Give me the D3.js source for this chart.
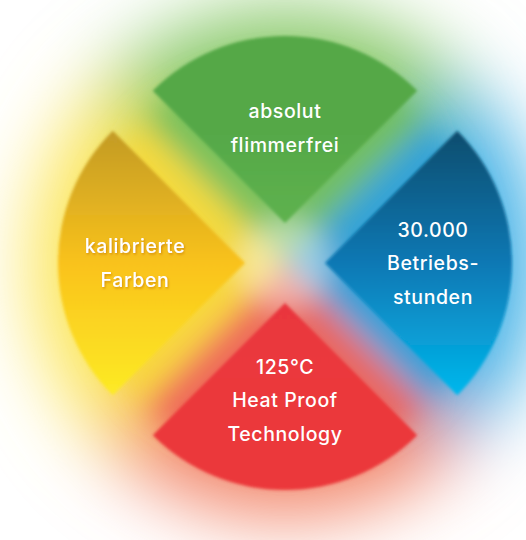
<!DOCTYPE html>
<html>
<head>
<meta charset="utf-8">
<script src="https://cdn.jsdelivr.net/npm/d3@7"></script>
<style>
  html, body { margin: 0; padding: 0; background: #fff; }
  svg { display: block; }
</style>
</head>
<body>
<div id="chart"></div>
<script>
// four equal segments, clockwise from the top
const segments = ['flimmerfrei', 'betriebsstunden', 'heatproof', 'farben'];
const values = [1, 1, 1, 1];
const labels = [
  ['absolut', 'flimmerfrei'],
  ['30.000', 'Betriebs-', 'stunden'],
  ['125°C', 'Heat Proof', 'Technology'],
  ['kalibrierte', 'Farben']
];
// gradient stops (top, middle, bottom) of each wedge, page space
const wedgeStops = [
  ['#55a847', '#62b652', '#6bbd58'],
  ['#0c4d6e', '#0a78b4', '#04b7ec'],
  ['#dc3040', '#e8353d', '#eb383b'],
  ['#c39b25', '#f9c21c', '#fdea25']
];
const glowColors = ['#86c866', '#40b0e6', '#f2866a', '#fbe558'];
const haloColors = ['#6fbe5a', '#2b9fd8', '#ee5f55', '#f8d83a'];

const width = 526;
const height = 540;
const cx = 285, cy = 263;
const radius = 187;
const explode = 40;
const labelDist = [95, 108, 97, 110];
const lineHeight = 33.5;

const svg = d3.select('#chart')
  .append('svg')
  .attr('width', width)
  .attr('height', height)
  .attr('viewBox', [0, 0, width, height]);

const defs = svg.append('defs');

function blur(id, sd) {
  defs.append('filter')
      .attr('id', id)
      .attr('x', '-50%').attr('y', '-50%')
      .attr('width', '200%').attr('height', '200%')
    .append('feGaussianBlur')
      .attr('stdDeviation', sd);
}
blur('glow', 38);
blur('halo', 14);
blur('soft', 1.7);

defs.append('filter')
    .attr('id', 'shadow')
  .append('feDropShadow')
    .attr('dx', 1).attr('dy', 1.5)
    .attr('stdDeviation', 0.8)
    .attr('flood-color', '#c77a00')
    .attr('flood-opacity', 0.7);

const pie = d3.pie()
  .sort(null)
  .startAngle(-Math.PI / 4)
  .endAngle(Math.PI * 7 / 4);

const arcs = pie(values);
arcs.forEach((d, i) => {
  d.name = segments[i];
  d.mid = (d.startAngle + d.endAngle) / 2;
  d.dx = Math.sin(d.mid) * explode;
  d.dy = -Math.cos(d.mid) * explode;
});

// wedge gradients, top to bottom of the page, given in each wedge's own frame
arcs.forEach((d, i) => {
  const stops = wedgeStops[i];
  const g = defs.append('linearGradient')
    .attr('id', 'grad' + i)
    .attr('gradientUnits', 'userSpaceOnUse')
    .attr('x1', 0).attr('x2', 0)
    .attr('y1', -radius * 0.7 - d.dy).attr('y2', radius * 0.7 - d.dy);
  g.selectAll('stop')
    .data(stops)
    .join('stop')
      .attr('offset', (s, j) => j / (stops.length - 1))
      .attr('stop-color', s => s);
});

// wide blurred colour halo
const glow = svg.append('g')
  .attr('transform', `translate(${cx},${cy})`)
  .attr('filter', 'url(#glow)');

glow.selectAll('path')
  .data(arcs)
  .join('path')
    .attr('d', d3.arc().innerRadius(0).outerRadius(255))
    .attr('fill', (d, i) => glowColors[i]);

// tighter halo filling the gaps between wedges
const halo = svg.append('g')
  .attr('transform', `translate(${cx},${cy})`)
  .attr('filter', 'url(#halo)');

halo.selectAll('path')
  .data(arcs)
  .join('path')
    .attr('d', d3.arc().innerRadius(0).outerRadius(200))
    .attr('fill', (d, i) => haloColors[i])
    .attr('opacity', 0.8);

halo.append('circle')
  .attr('r', 45)
  .attr('fill', '#fff')
  .attr('opacity', 0.45);

// exploded wedges
const wedges = svg.append('g')
  .attr('transform', `translate(${cx},${cy})`);

wedges.selectAll('path')
  .data(arcs)
  .join('path')
    .attr('transform', d => `translate(${d.dx},${d.dy})`)
    .attr('d', d3.arc().innerRadius(0).outerRadius(radius))
    .attr('fill', (d, i) => `url(#grad${i})`)
    .attr('filter', 'url(#soft)');

// labels
const text = svg.append('g')
  .attr('font-family', 'Inter, "Liberation Sans", Arial, sans-serif')
  .attr('font-size', 19.5)
  .attr('font-weight', 500)
  .attr('letter-spacing', 0.6)
  .attr('fill', '#fff')
  .attr('text-anchor', 'middle');

text.selectAll('text')
  .data(arcs)
  .join('text')
    .attr('filter', (d, i) => i === 3 ? 'url(#shadow)' : null)
    .each(function (d, i) {
      const lines = labels[i];
      const tx = cx + d.dx + Math.sin(d.mid) * labelDist[i];
      const ty = cy + d.dy - Math.cos(d.mid) * labelDist[i];
      const y0 = ty - (lines.length - 1) * lineHeight / 2 + 7;
      d3.select(this).selectAll('tspan')
        .data(lines)
        .join('tspan')
          .attr('x', tx)
          .attr('y', (l, j) => y0 + j * lineHeight)
          .text(l => l);
    });
</script>
</body>
</html>
